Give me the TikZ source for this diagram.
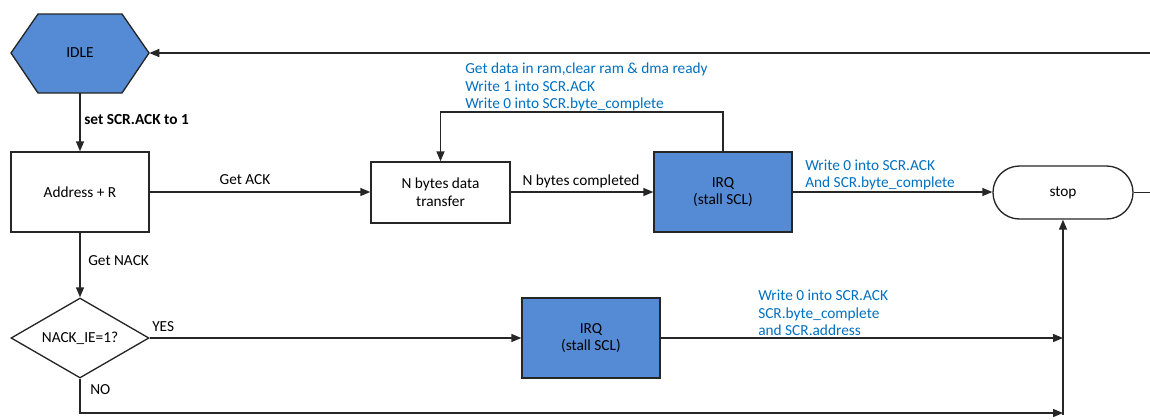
\documentclass[tikz,border=0pt]{standalone}
\usepackage{fontspec}
\setmainfont{Carlito}
\usetikzlibrary{arrows.meta,shapes.geometric}
\definecolor{boxblue}{RGB}{85,139,212}
\definecolor{txtblue}{RGB}{0,112,192}
\begin{document}
\begin{tikzpicture}[x=0.75pt,y=-0.75pt,
  font=\fontsize{11.5}{13.2}\selectfont,
  line/.style={draw=black!85, line width=1pt},
  arr/.style={line, -{Triangle[length=7.5pt,width=6pt]}},
  procbox/.style={draw=black!85, line width=1pt, rectangle, inner sep=0pt, align=center},
  bluebox/.style={procbox, fill=boxblue},
  lbl/.style={inner sep=0pt, anchor=west},
  bluelbl/.style={lbl, text=txtblue, align=left}]
\useasboundingbox (0,0) rectangle (1150,419);
% IDLE hexagon
\node[inner sep=0pt, minimum width=103.5pt, minimum height=59.25pt] (idle) at (80,53) {};
\fill[boxblue, draw=black!85, line width=1pt] (11,53) -- (38,14) -- (122,14) -- (149,53) -- (122,93) -- (38,93) -- cycle;
\node at (80,53) {IDLE};
% boxes
\node[procbox, minimum width=103.5pt, minimum height=60pt] (addr) at (80,192) {Address + R};
\node[procbox, minimum width=104.25pt, minimum height=45.75pt] (nbytes) at (440.5,192.5) {N bytes data\\transfer};
\node[bluebox, minimum width=103.5pt, minimum height=60pt] (irq1) at (723,192) {IRQ\\(stall SCL)};
\node[procbox, rounded corners=19.8pt, minimum width=105pt, minimum height=39.75pt] (stop) at (1063,192.5) {stop};
\node[draw=black!85, line width=1pt, diamond, aspect=1.725, inner sep=0pt, minimum width=103.5pt, minimum height=60pt] (dec) at (80,338) {NACK\_IE=1?};
\node[bluebox, minimum width=103.5pt, minimum height=60pt] (irq2) at (591,338) {IRQ\\(stall SCL)};
% coordinates
\coordinate (rtop) at (1150,53);
\coordinate (rmid) at (1150,192.5);
\coordinate (loopR) at (723,112);
\coordinate (loopL) at (440.5,112);
\coordinate (noC) at (80,413);
\coordinate (vbot) at (1063,415);
\coordinate (yesEnd) at (1063,338);
\coordinate (noEnd) at (1063,413);
% connectors
\draw[arr] (rtop) -- (idle.east);
\draw[arr] (idle.south) -- (addr.north);
\draw[arr] (addr.east) -- (nbytes.west |- addr.east);
\draw[arr] (nbytes.east |- irq1.west) -- (irq1.west);
\draw[arr] (irq1.north) -- (loopR) -- (loopL) -- (nbytes.north);
\draw[arr] (irq1.east) -- (stop.west |- irq1.east);
\draw[line] (stop.east) -- (rmid);
\draw[arr] (vbot) -- (stop.south);
\draw[arr] (addr.south) -- (dec.north);
\draw[arr] (dec.east) -- (irq2.west);
\draw[arr] (irq2.east) -- (yesEnd);
\draw[arr] (dec.south) -- (noC) -- (noEnd);
% labels
\node[lbl, font=\fontsize{11.5}{13.2}\selectfont\bfseries] at (84,120) {set SCR.ACK to 1};
\node[inner sep=0pt] at (245,180) {Get ACK};
\node[inner sep=0pt] at (581,181) {N bytes completed};
\node[lbl] at (88,261) {Get NACK};
\node[lbl] at (152,327) {YES};
\node[lbl] at (90,390) {NO};
\node[bluelbl] at (465,87) {Get data in ram,clear ram \& dma ready\\Write 1 into SCR.ACK\\Write 0 into SCR.byte\_complete};
\node[bluelbl] at (805,175) {Write 0 into SCR.ACK\\And SCR.byte\_complete};
\node[bluelbl] at (758,313) {Write 0 into SCR.ACK\\SCR.byte\_complete\\and SCR.address};
\end{tikzpicture}
\end{document}
